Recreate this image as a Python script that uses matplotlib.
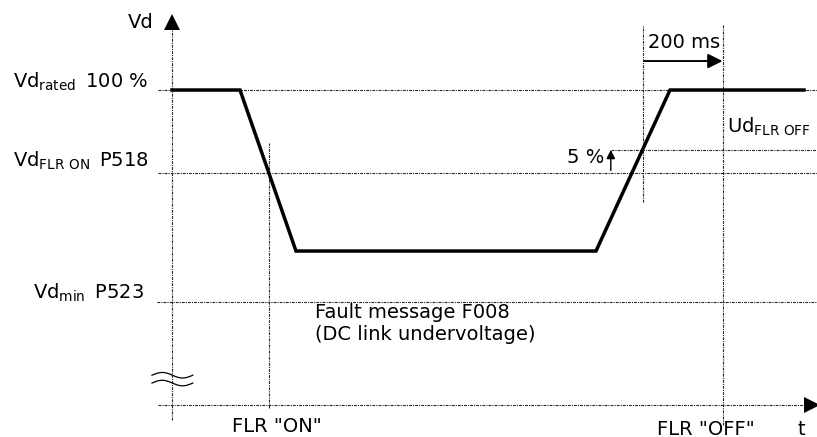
import numpy as np
import matplotlib.pyplot as plt

plt.rcParams['font.family'] = ['DejaVu Sans']
plt.rcParams['mathtext.fontset'] = 'custom'
plt.rcParams['mathtext.rm'] = 'DejaVu Sans'

# DC link voltage profile during a kinetic buffering event (t in ms, Vd in % of rated)
t_pts = [0, 170, 310, 1060, 1245, 1580]
vd_pts = [100, 100, 65, 65, 100, 100]

vd_rated = 100
vd_flr_on = 82      # P518
vd_flr_off = 87     # FLR ON + 5 %
vd_min = 54         # P523
off_delay = 200     # ms

# switching instants taken from the curve itself
t_on = np.interp(vd_flr_on, vd_pts[1:3][::-1], t_pts[1:3][::-1])
t_rise = np.interp(vd_flr_off, vd_pts[3:5], t_pts[3:5])
t_off = t_rise + off_delay

fig = plt.figure(figsize=(8.17, 4.37), dpi=100)
ax = fig.add_axes([0, 0, 1, 1])
ax.set_xlim(-430, 1612.5)
ax.set_ylim(24.57, 119.57)
ax.axis('off')

dot = dict(color='#222222', lw=0.8, dashes=(2.5, 1, 1, 1))
x_end = 1612
v_base = 31.5

# level lines
ax.plot([-35, x_end], [vd_rated] * 2, **dot)
ax.plot([-35, x_end], [vd_flr_on] * 2, **dot)
ax.plot([-38, x_end], [vd_min] * 2, **dot)
ax.plot([1097, x_end], [vd_flr_off] * 2, **dot)

# axes
ax.plot([0, 0], [28.3, 113], **dot)
ax.plot([-35, 1595], [v_base] * 2, **dot)
ax.plot([0], [114.8], marker='^', ms=11, color='k', mew=0)
ax.plot([1600], [v_base], marker='>', ms=11, color='k', mew=0)

# axis break
tw = np.linspace(-50, 52, 60)
for vb in (38.0, 36.3):
    ax.plot(tw, vb + 0.6 * np.sin(2 * np.pi * (tw + 50) / 102), color='k', lw=0.9)

# switching markers
ax.plot([t_on, t_on], [30.9, 88.5], **dot)
ax.plot([t_rise, t_rise], [75.6, 114.1], **dot)
ax.plot([t_off, t_off], [27.2, 114.1], **dot)

# voltage curve
ax.plot(t_pts, vd_pts, color='k', lw=2.5, solid_joinstyle='miter')

# 200 ms and 5 % arrows
ax.annotate('', xy=(t_off, 106.3), xytext=(t_rise + 5, 106.3),
            arrowprops=dict(arrowstyle='-|>', color='k', lw=1.4,
                            mutation_scale=22, shrinkA=0, shrinkB=0))
ax.annotate('', xy=(1097, vd_flr_off), xytext=(1097, vd_flr_on + 0.5),
            arrowprops=dict(arrowstyle='-|>', color='k', lw=1.0,
                            mutation_scale=13, shrinkA=0, shrinkB=0))

fs = 14
ax.text(-47, 113.5, 'Vd', fontsize=fs, ha='right', va='baseline')
ax.text(-397, 100.4, r'V$\mathrm{d}_{\mathrm{rated}}\,$ 100 %', fontsize=fs, va='baseline')
ax.text(-397, 83.3, r'V$\mathrm{d}_{\mathrm{FLR\ ON}}\,$ P518', fontsize=fs, va='baseline')
ax.text(-347, 54.6, r'V$\mathrm{d}_{\mathrm{min}}\,$ P523', fontsize=fs, va='baseline')
ax.text(1387, 90.7, r'U$\mathrm{d}_{\mathrm{FLR\ OFF}}$', fontsize=fs, va='baseline')
ax.text(1080, 84.1, '5 %', fontsize=fs, ha='right', va='baseline')
ax.text(1190, 109.1, '200 ms', fontsize=fs, va='baseline')
ax.text(357, 50.4, 'Fault message F008', fontsize=fs, va='baseline')
ax.text(357, 45.7, '(DC link undervoltage)', fontsize=fs, va='baseline')
ax.text(150, 25.7, 'FLR "ON"', fontsize=fs, va='baseline')
ax.text(1212, 25.1, 'FLR "OFF"', fontsize=fs, va='baseline')
ax.text(1565, 25.1, 't', fontsize=fs, va='baseline')

fig.savefig('out.png', dpi=100)
